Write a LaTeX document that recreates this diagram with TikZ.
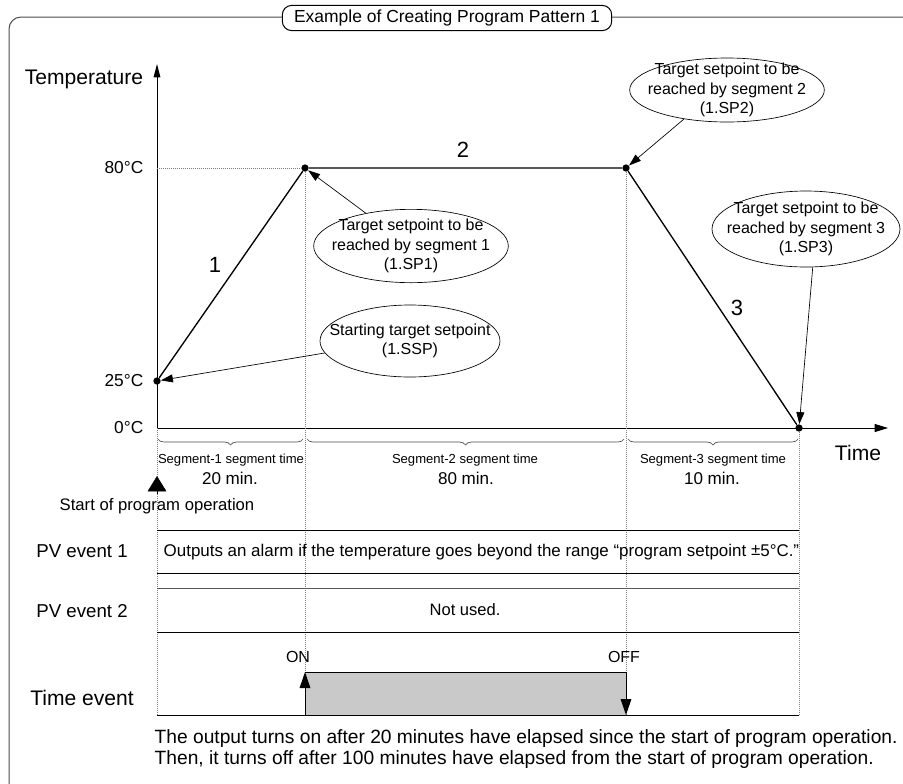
\documentclass[tikz,border=0pt]{standalone}
\usepackage{fontspec}
\setmainfont{Liberation Sans}
\usetikzlibrary{arrows.meta,shapes.geometric,decorations.pathreplacing}

\begin{document}
\begin{tikzpicture}[x=0.75pt, y=-0.75pt,
    dot/.style={circle, fill, inner sep=0pt, minimum size=5.5pt},
    bubble/.style={ellipse, draw, line width=0.5pt, inner sep=0pt},
    bubbletext/.style={align=center, font=\fontsize{12}{14.4}\selectfont},
    pointer/.style={-{Triangle[length=9pt,width=6pt]}, line width=0.5pt},
    guide/.style={densely dotted, gray, line width=0.5pt},
    rowline/.style={line width=0.75pt},
    segbrace/.style={decorate, decoration={brace, mirror, amplitude=4.5pt}, gray!60!black, line width=0.5pt},
    segfont/.style={font=\fontsize{9.8}{11}\selectfont},
    minfont/.style={font=\fontsize{12.8}{14}\selectfont},
    bigfont/.style={font=\fontsize{15.8}{18}\selectfont},
]
    \clip (0,0) rectangle (903,783);

    % Frame and title
    \draw[line width=0.75pt, gray!60!black, rounded corners=9pt] (9,17) rectangle (960,820);
    \node[draw, fill=white, line width=0.75pt, rounded corners=7pt, minimum width=247pt, minimum height=15pt,
          font=\fontsize{13.1}{15}\selectfont] (title) at (447,18) {Example of Creating Program Pattern 1};

    % Axes
    \coordinate (origin) at (157,428);
    \coordinate (ytip) at (157,64);
    \coordinate (xtip) at (888,428);
    \coordinate (base) at (157,715);
    \draw[line width=0.75pt, -{Triangle[length=10pt,width=5pt]}] (origin) -- (ytip);
    \draw[line width=0.75pt, -{Triangle[length=10pt,width=6pt]}] (origin) -- (xtip);
    \node[bigfont] (templabel) at (84,79) {Temperature};
    \node[bigfont] (timelabel) at (858,453) {Time};
    \node[anchor=east, font=\fontsize{13}{15}\selectfont] (t80) at (148,168) {80\textdegree C};
    \node[anchor=east, font=\fontsize{13}{15}\selectfont] (t25) at (148,381) {25\textdegree C};
    \node[anchor=east, font=\fontsize{13}{15}\selectfont] (t0) at (148,428) {0\textdegree C};

    % Program pattern
    \node[dot] (p0) at (157,381) {};
    \node[dot] (p1) at (305,168) {};
    \node[dot] (p2) at (626,168) {};
    \node[dot] (p3) at (799,428) {};
    \draw[guide] (t80.east -| origin) -- (p1);
    \draw[guide] (p1) -- (p1 |- base);
    \draw[guide] (p2) -- (p2 |- base);
    \draw[guide] (origin) -- (base);
    \draw[guide] (p3) -- (p3 |- base);
    \draw[line width=1pt] (p0) -- (p1) -- (p2) -- (p3);
    \node[font=\fontsize{16.5}{18}\selectfont] (seg1) at (215,265) {1};
    \node[font=\fontsize{16.5}{18}\selectfont] (seg2) at (463,150) {2};
    \node[font=\fontsize{16.5}{18}\selectfont] (seg3) at (737,308) {3};

    % Callouts
    \node[bubble, minimum width=146pt, minimum height=55pt] (sp1) at (411,246) {};
    \node[bubbletext] at (sp1) {Target setpoint to be\\reached by segment 1\\(1.SP1)};
    \node[bubble, minimum width=135pt, minimum height=54pt] (ssp) at (410,341) {};
    \node[bubbletext] at (ssp) {Starting target setpoint\\(1.SSP)};
    \node[bubble, minimum width=146pt, minimum height=48pt] (sp2) at (727,90) {};
    \node[bubbletext] at (sp2) {Target setpoint to be\\reached by segment 2\\(1.SP2)};
    \node[bubble, minimum width=141pt, minimum height=57pt] (sp3) at (806,229) {};
    \node[bubbletext] at (sp3) {Target setpoint to be\\reached by segment 3\\(1.SP3)};
    \draw[pointer] (sp1.144) -- (p1);
    \draw[pointer] (ssp.188) -- (p0);
    \draw[pointer] (sp2.214) -- (p2);
    \draw[pointer] (sp3.280) -- (p3);

    % Segment times
    \draw[segbrace] (158,439) -- (303,439);
    \draw[segbrace] (307,439) -- (624,439);
    \draw[segbrace] (628,439) -- (798,439);
    \node[segfont] (st1) at (231,460) {Segment-1 segment time};
    \node[minfont] (m1) at (230,478) {20 min.};
    \node[segfont] (st2) at (465,460) {Segment-2 segment time};
    \node[minfont] (m2) at (466,478) {80 min.};
    \node[segfont] (st3) at (713,460) {Segment-3 segment time};
    \node[minfont] (m3) at (712,478) {10 min.};
    \coordinate (startfoot) at (157,494);
    \coordinate (starttip) at (157,476);
    \draw[-{Triangle[length=11.5pt,width=14pt]}] (startfoot) -- (starttip);
    \node[font=\fontsize{12.5}{14}\selectfont] (start) at (157,506) {Start of program operation};

    % Events
    \draw[rowline] (157,530) -- (799,530);
    \draw[rowline] (157,573) -- (799,573);
    \draw[rowline, gray!70!black] (157,588) -- (799,588);
    \draw[rowline] (157,632) -- (799,632);
    \node[font=\fontsize{14}{16}\selectfont] (pv1) at (82,551) {PV event 1};
    \node[font=\fontsize{14}{16}\selectfont] (pv2) at (82,611) {PV event 2};
    \node[bigfont] (tev) at (82,698) {Time event};
    \node[anchor=west, font=\fontsize{12.7}{14}\selectfont] (alarm) at (159,552)
        {Outputs an alarm if the temperature goes beyond the range “program setpoint \raisebox{0.5pt}{±}5\textdegree C.”};
    \node[font=\fontsize{12.4}{14}\selectfont] (unused) at (465,610) {Not used.};

    % Time event output
    \coordinate (onfoot) at (305,715);
    \coordinate (ontop) at (305,672);
    \coordinate (offtop) at (626,672);
    \coordinate (offfoot) at (626,715);
    \fill[gray!42] (ontop) rectangle (offfoot);
    \draw[line width=0.75pt] (ontop) -- (offtop);
    \draw[line width=0.75pt, -{Triangle[length=12pt,width=8pt]}] (onfoot) -- (ontop);
    \draw[line width=0.75pt, -{Triangle[length=12pt,width=8pt]}] (offtop) -- (offfoot);
    \draw[rowline] (base) -- (p3 |- base);
    \node[font=\fontsize{12}{14}\selectfont] (on) at (298,657) {ON};
    \node[font=\fontsize{12}{14}\selectfont] (off) at (624,657) {OFF};
    \node[anchor=north west, align=left, font=\fontsize{14.4}{15.8}\selectfont] (note) at (150,725)
        {The output turns on after 20 minutes have elapsed since the start of program operation.\\
         Then, it turns off after 100 minutes have elapsed from the start of program operation.};
\end{tikzpicture}
\end{document}
